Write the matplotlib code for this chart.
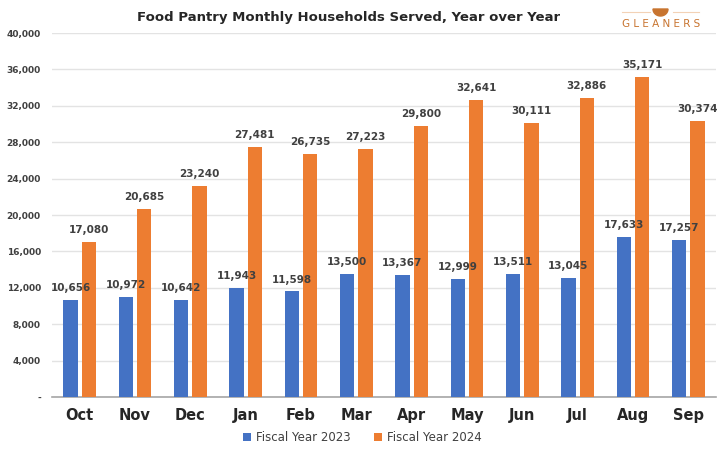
import matplotlib
matplotlib.use("Agg")
import matplotlib.pyplot as plt
import numpy as np
from matplotlib.patches import Polygon
from matplotlib.lines import Line2D
from matplotlib.transforms import IdentityTransform

months = ["Oct", "Nov", "Dec", "Jan", "Feb", "Mar", "Apr", "May", "Jun", "Jul", "Aug", "Sep"]
fy2023 = [10656, 10972, 10642, 11943, 11598, 13500, 13367, 12999, 13511, 13045, 17633, 17257]
fy2024 = [17080, 20685, 23240, 27481, 26735, 27223, 29800, 32641, 30111, 32886, 35171, 30374]
yticks = [0, 4000, 8000, 12000, 16000, 20000, 24000, 28000, 32000, 36000, 40000]
ytick_labels = ["-", "4,000", "8,000", "12,000", "16,000", "20,000", "24,000", "28,000", "32,000", "36,000", "40,000"]

plt.rcParams['font.family'] = ['DejaVu Sans']

fig = plt.figure(figsize=(7.24, 4.51), dpi=100)
ax = fig.add_axes([0.0718, 0.1197, 0.917, 0.807])

x = np.arange(len(months))
w = 0.26
gap = 0.035
blue = "#4472C4"
orange = "#ED7D31"
b1 = ax.bar(x - w/2 - gap, fy2023, w, color=blue, label="Fiscal Year 2023", zorder=3)
b2 = ax.bar(x + w/2 + gap, fy2024, w, color=orange, label="Fiscal Year 2024", zorder=3)

for rects, vals in ((b1, fy2023), (b2, fy2024)):
    for r, v in zip(rects, vals):
        ax.annotate(f"{v:,}", (r.get_x() + r.get_width()/2, v), xytext=(0, 5),
                    textcoords="offset points", ha="center", va="bottom",
                    fontsize=7.5, fontweight="bold", color="#404040")

ax.set_ylim(0, 40000)
ax.set_xlim(-0.5, len(months) - 0.5)
ax.set_yticks(yticks)
ax.set_yticklabels(ytick_labels, fontsize=6.5, fontweight="bold", color="#404040")
ax.set_xticks(x)
ax.set_xticklabels(months, fontsize=10.5, fontweight="bold", color="#262626")
ax.tick_params(axis="y", length=0, pad=8)
ax.tick_params(axis="x", length=0, pad=8)
ax.yaxis.grid(True, color="#E3E3E3", linewidth=1, zorder=0)
for s in ("top", "right", "left"):
    ax.spines[s].set_visible(False)
ax.spines["bottom"].set_color("#A6A6A6")
ax.spines["bottom"].set_linewidth(1.2)
ax.set_axisbelow(True)

fig.text(0.482, 0.962, "Food Pantry Monthly Households Served, Year over Year",
         ha="center", va="center", fontsize=9.5, fontweight="bold", color="#262626")

leg = fig.legend(handles=[b1, b2], loc="center", bbox_to_anchor=(0.5, 0.03), ncol=2,
                 frameon=False, fontsize=8.5, handlelength=0.7, handleheight=0.7,
                 columnspacing=2.0, handletextpad=0.4)
for t in leg.get_texts():
    t.set_color("#404040")

# Logo
logo_color = "#C8742F"
H = 451
fig.text(661/724, 1 - 24/H, "G L E A N E R S", ha="center", va="center",
         fontsize=7.5, color=logo_color)
fig.add_artist(Line2D([622/724, 650/724], [1 - 12/H, 1 - 12/H], color="#F3D2B6", lw=0.8))
fig.add_artist(Line2D([673/724, 699/724], [1 - 12/H, 1 - 12/H], color="#F3D2B6", lw=0.8))
th = np.linspace(np.pi, 2*np.pi, 40)
bowl = np.column_stack([660.5 + 7.5*np.cos(th), H - 9 + 7*np.sin(th)])
fig.add_artist(Polygon(bowl, closed=True, color=logo_color, transform=IdentityTransform()))

fig.savefig("out.png", dpi=100)
